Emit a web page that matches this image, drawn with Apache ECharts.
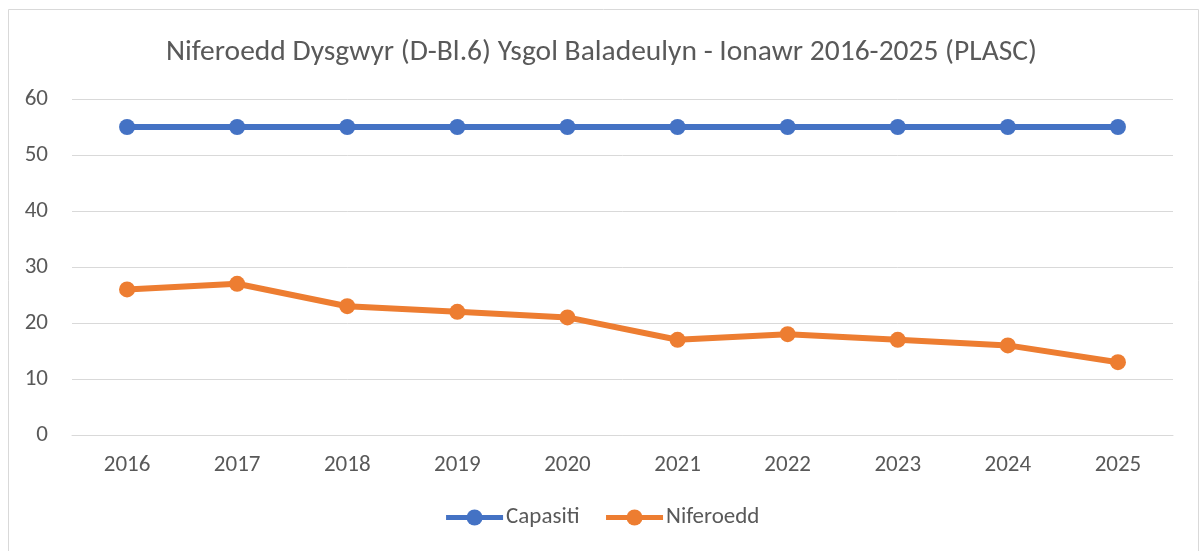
<!DOCTYPE html>
<html>
<head>
<meta charset="utf-8">
<script src="https://cdn.jsdelivr.net/npm/echarts@6/dist/echarts.min.js"></script>
<style>
    html, body { margin: 0; padding: 0; background: #fff; }
    #chart { width: 1203px; height: 551px; }
</style>
</head>
<body>
<div id="chart"></div>
<script>
    var years = ['2016', '2017', '2018', '2019', '2020', '2021', '2022', '2023', '2024', '2025'];
    var capasiti = [55, 55, 55, 55, 55, 55, 55, 55, 55, 55];
    var niferoedd = [26, 27, 23, 22, 21, 17, 18, 17, 16, 13];
    var yTicks = [0, 10, 20, 30, 40, 50, 60];

    var font = 'Calibri, Carlito, "Open Sans", "Noto Sans", sans-serif';
    var myChart = echarts.init(document.getElementById('chart'));
    var option = {
        backgroundColor: '#fff',
        animation: false,
        graphic: [{
            type: 'rect',
            shape: {x: 8.5, y: 9.5, width: 1190, height: 560},
            style: {fill: 'none', stroke: '#d9d9d9', lineWidth: 1}
        }],
        title: {
            text: 'Niferoedd Dysgwyr (D-Bl.6) Ysgol Baladeulyn - Ionawr 2016-2025 (PLASC)',
            left: 'center',
            top: 33,
            textStyle: {color: '#595959', fontSize: 29.5, fontWeight: 'normal', fontFamily: font}
        },
        legend: {
            bottom: 17,
            left: 'center',
            itemWidth: 57,
            itemHeight: 20,
            itemGap: 24,
            lineStyle: {width: 5},
            textStyle: {color: '#595959', fontSize: 23, fontFamily: font, padding: [0, 0, 0, -2]},
            data: ['Capasiti', 'Niferoedd']
        },
        grid: {left: 72, right: 30, top: 99, bottom: 116},
        xAxis: {
            type: 'category',
            data: years,
            axisLine: {show: true, lineStyle: {color: '#d9d9d9', width: 1}},
            axisTick: {show: false},
            axisLabel: {color: '#595959', fontSize: 23, margin: 19, fontFamily: font}
        },
        yAxis: {
            type: 'value',
            min: yTicks[0],
            max: yTicks[yTicks.length - 1],
            interval: 10,
            axisLine: {show: false},
            axisTick: {show: false},
            axisLabel: {color: '#595959', fontSize: 23, margin: 24, fontFamily: font},
            splitLine: {lineStyle: {color: '#d9d9d9', width: 1}}
        },
        series: [
            {
                name: 'Capasiti',
                type: 'line',
                data: capasiti,
                symbol: 'circle',
                symbolSize: 16,
                color: '#4472C4',
                lineStyle: {width: 6}
            },
            {
                name: 'Niferoedd',
                type: 'line',
                data: niferoedd,
                symbol: 'circle',
                symbolSize: 16,
                color: '#ED7D31',
                lineStyle: {width: 6}
            }
        ]
    };
    myChart.setOption(option);
</script>
</body>
</html>
